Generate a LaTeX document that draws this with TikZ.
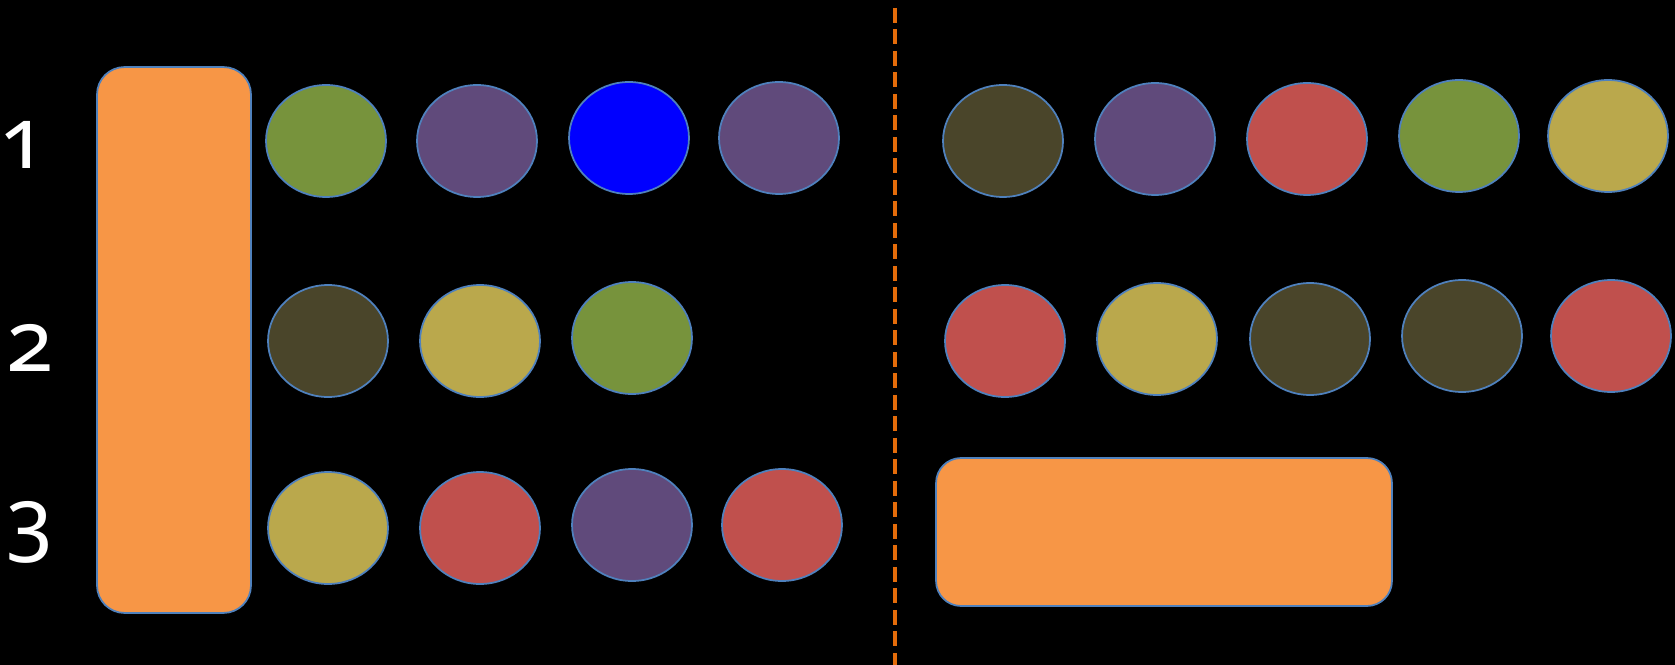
\documentclass[tikz,border=0pt]{standalone}
\usepackage{fontspec}
\setmainfont{Noto Sans}[Numbers=OldStyle]
\usepackage{tikz}
\usetikzlibrary{shapes.geometric}
\definecolor{slaborange}{HTML}{F79646}
\definecolor{rimblue}{HTML}{4F81BD}
\definecolor{leafgreen}{HTML}{77933C}
\definecolor{plum}{HTML}{604A7B}
\definecolor{pureblue}{HTML}{0000FF}
\definecolor{mud}{HTML}{4A452A}
\definecolor{mustard}{HTML}{BAA84C}
\definecolor{brick}{HTML}{C0504D}
\definecolor{cutorange}{HTML}{E46C0A}

\begin{document}
\begin{tikzpicture}[x=0.02cm, y=-0.02cm,
  ball/.style={ellipse, draw=rimblue, line width=1pt, minimum width=2.4cm,
               minimum height=2.24cm, inner sep=0pt},
  slab/.style={rectangle, rounded corners=0.55cm, draw=rimblue, line width=1pt,
               fill=slaborange, inner sep=0pt},
  rowlabel/.style={text=white, anchor=base, inner sep=0pt,
                   font=\fontsize{49}{58}\selectfont},
  cut/.style={draw=cutorange, line width=2.8pt,
              dash pattern=on 0.3cm off 0.13cm}
]
  \fill[black] (0,0) rectangle (1675,665);
  \useasboundingbox (0,0) rectangle (1675,665);

  % row labels
  \node[rowlabel] (L1) at (23,169) {1};
  \node[rowlabel] (L2) at (30,371) {2};
  \node[rowlabel] (L3) at (30,548) {3};

  % the two orange bars
  \node[slab, minimum width=3.08cm, minimum height=10.92cm] (tall) at (174,340) {};
  \node[slab, minimum width=9.12cm, minimum height=2.96cm,
        rounded corners=0.5cm] (wide) at (1164,532) {};

  % divider
  \coordinate (cuttop) at (895,8);
  \coordinate (cutbot) at (895,665);
  \draw[cut] (cuttop) -- (cutbot);

  % row 1, left
  \node[ball, fill=leafgreen] (a1) at (326,141) {};
  \node[ball, fill=plum]      (a2) at (477,141) {};
  \node[ball, fill=pureblue]  (a3) at (629,138) {};
  \node[ball, fill=plum]      (a4) at (779,138) {};
  % row 1, right
  \node[ball, fill=mud]       (a5) at (1003,141) {};
  \node[ball, fill=plum]      (a6) at (1155,139) {};
  \node[ball, fill=brick]     (a7) at (1307,139) {};
  \node[ball, fill=leafgreen] (a8) at (1459,136) {};
  \node[ball, fill=mustard]   (a9) at (1608,136) {};

  % row 2, left
  \node[ball, fill=mud]       (b1) at (328,341) {};
  \node[ball, fill=mustard]   (b2) at (480,341) {};
  \node[ball, fill=leafgreen] (b3) at (632,338) {};
  % row 2, right
  \node[ball, fill=brick]     (b4) at (1005,341) {};
  \node[ball, fill=mustard]   (b5) at (1157,339) {};
  \node[ball, fill=mud]       (b6) at (1310,339) {};
  \node[ball, fill=mud]       (b7) at (1462,336) {};
  \node[ball, fill=brick]     (b8) at (1611,336) {};

  % row 3, left
  \node[ball, fill=mustard]   (c1) at (328,528) {};
  \node[ball, fill=brick]     (c2) at (480,528) {};
  \node[ball, fill=plum]      (c3) at (632,525) {};
  \node[ball, fill=brick]     (c4) at (782,525) {};
\end{tikzpicture}
\end{document}
